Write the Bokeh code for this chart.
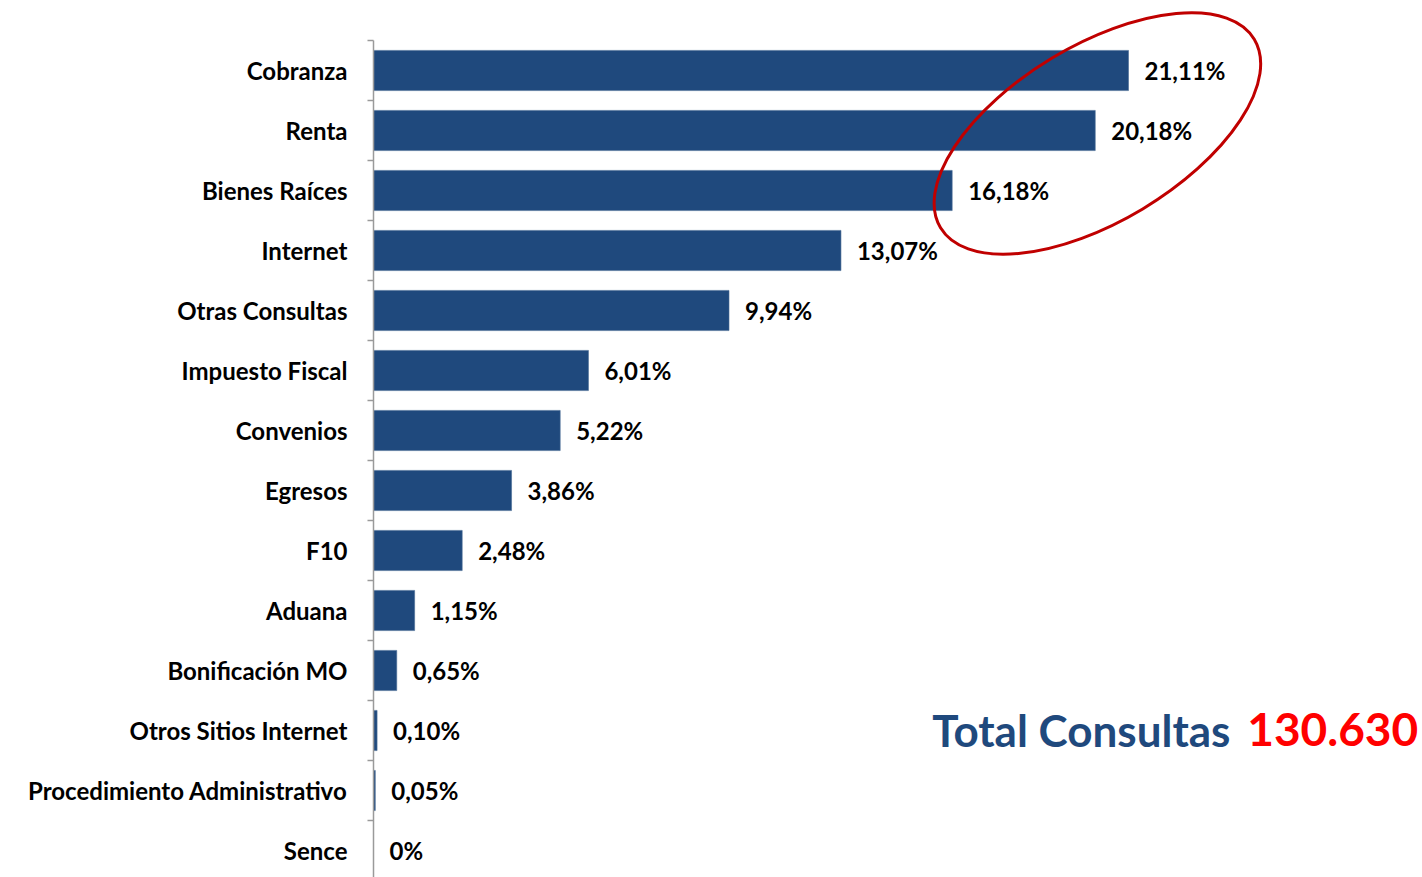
import math
from bokeh.plotting import figure
from bokeh.models import Range1d, FixedTicker, Label, ColumnDataSource, LinearAxis
from bokeh.core.properties import value
from bokeh.embed import file_html
from bokeh.resources import INLINE

categories = ["Cobranza", "Renta", "Bienes Raíces", "Internet", "Otras Consultas",
              "Impuesto Fiscal", "Convenios", "Egresos", "F10", "Aduana",
              "Bonificación MO", "Otros Sitios Internet", "Procedimiento Administrativo", "Sence"]
values = [21.11, 20.18, 16.18, 13.07, 9.94, 6.01, 5.22, 3.86, 2.48, 1.15, 0.65, 0.10, 0.05, 0.0]
value_labels = ["21,11%", "20,18%", "16,18%", "13,07%", "9,94%", "6,01%", "5,22%",
                "3,86%", "2,48%", "1,15%", "0,65%", "0,10%", "0,05%", "0%"]
total_title = "Total Consultas"
total_value = "130.630"

n = len(categories)
ypos = [n - 1 - i for i in range(n)]

src = ColumnDataSource(dict(y=ypos, v=values, lab=value_labels))

FONT = "Lato"
BLUE = "#1F497D"

p = figure(width=1422, height=877, output_backend="svg", toolbar_location=None,
           x_range=Range1d(0, 29.33), y_range=Range1d(-0.45, 14.0),
           min_border_left=373, min_border_right=0, min_border_top=10, min_border_bottom=0,
           x_axis_location=None, y_axis_location=None)
p.outline_line_color = None
p.xgrid.visible = False
p.ygrid.visible = False
p.background_fill_color = "white"

yaxis = LinearAxis(ticker=FixedTicker(ticks=ypos, minor_ticks=[k + 0.5 for k in range(-1, n)]),
                   major_label_overrides={y: c for y, c in zip(ypos, categories)},
                   bounds=(-0.5, n - 0.5))
yaxis.major_tick_line_color = None
yaxis.major_tick_in = 0
yaxis.major_tick_out = 0
yaxis.minor_tick_in = 0
yaxis.minor_tick_out = 6
yaxis.minor_tick_line_color = "#9A9A9A"
yaxis.minor_tick_line_width = 1.5
yaxis.axis_line_color = "#9A9A9A"
yaxis.axis_line_width = 1.5
yaxis.major_label_standoff = 20
yaxis.major_label_text_font = FONT
yaxis.major_label_text_font_style = "bold"
yaxis.major_label_text_font_size = "24px"
yaxis.major_label_text_color = "black"
p.add_layout(yaxis, "left")

p.hbar(y="y", left=0, right="v", height=0.67, source=src,
       fill_color=BLUE, line_color="#4A6C96", line_width=0.6)

p.text(x="v", y="y", text="lab", source=src, x_offset=16, y_offset=0,
       text_font=value(FONT), text_font_style="bold", text_font_size="24px",
       text_color="black", text_align="left", text_baseline="middle")

# highlight ellipse around the top three
p.ellipse(x=[20.24], y=[11.95], width=[366], height=[176], angle=[math.radians(31)],
          width_units="screen", height_units="screen",
          fill_color=None, line_color="#C00000", line_width=3)

p.add_layout(Label(x=29.21, y=2.01, text=total_value, text_align="right", text_baseline="middle",
                   text_font=FONT, text_font_style="bold", text_font_size="46px",
                   text_color="#FF0000"))
p.add_layout(Label(x=23.96, y=2.01, text=total_title, text_align="right", text_baseline="middle",
                   text_font=FONT, text_font_style="bold", text_font_size="44px",
                   text_color=BLUE))

open("out.html", "w").write(file_html(p, INLINE))
